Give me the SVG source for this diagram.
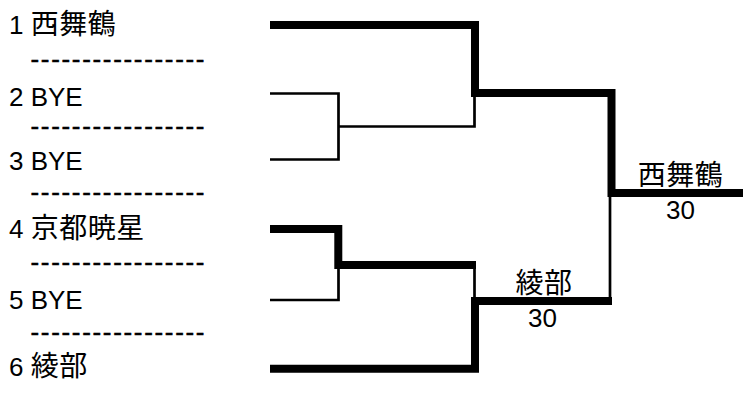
<svg xmlns="http://www.w3.org/2000/svg" width="743" height="400" viewBox="0 0 743 400">
<style>
text{font-family:"Liberation Sans","Noto Sans CJK JP",sans-serif;font-size:26px;fill:#000}
.cjk{font-size:28px;letter-spacing:0.5px}
.dash{font-size:26px;stroke:#000;stroke-width:0.5}
.thick{fill:none;stroke:#000;stroke-width:8;stroke-linejoin:miter;stroke-linecap:butt}
.thin{fill:none;stroke:#000;stroke-width:2.7;stroke-linecap:butt}
.lbl{text-anchor:middle}
</style>
<rect width="743" height="400" fill="#fff"/>
<g id="entry1"><text x="9" y="34">1 <tspan class="cjk">西舞鶴</tspan></text></g>
<g id="sep1"><text class="dash" x="30.5" y="67.5" textLength="174" lengthAdjust="spacing">-----------------</text></g>
<g id="entry2"><text x="9" y="106">2 BYE</text></g>
<g id="sep2"><text class="dash" x="30.5" y="134.5" textLength="174" lengthAdjust="spacing">-----------------</text></g>
<g id="entry3"><text x="9" y="169.5">3 BYE</text></g>
<g id="sep3"><text class="dash" x="30.5" y="200.5" textLength="174" lengthAdjust="spacing">-----------------</text></g>
<g id="entry4"><text x="9" y="238">4 <tspan class="cjk">京都暁星</tspan></text></g>
<g id="sep4"><text class="dash" x="30.5" y="271" textLength="174" lengthAdjust="spacing">-----------------</text></g>
<g id="entry5"><text x="9" y="309">5 BYE</text></g>
<g id="sep5"><text class="dash" x="30.5" y="340.5" textLength="174" lengthAdjust="spacing">-----------------</text></g>
<g id="entry6"><text x="9" y="376">6 <tspan class="cjk">綾部</tspan></text></g>
<g id="connectors">
<path class="thick" d="M270,25 H475 V93 H611.5 V193 H743"/>
<path class="thick" d="M270,229 H338.3 V265 H476"/>
<path class="thick" d="M270,368.7 H475 V301 H612"/>
<path class="thin" d="M270,93.5 H338.5 V159.5 H270"/>
<path class="thin" d="M338.5,126.5 H474.5 V93"/>
<path class="thin" d="M270,300 H338.5 V265"/>
<path class="thin" d="M474.5,265 V301"/>
<path class="thin" d="M610,193 V301"/>
</g>
<g id="final"><text class="lbl cjk" x="680.5" y="185">西舞鶴</text><text class="lbl" x="680.5" y="219">30</text></g>
<g id="semi2"><text class="lbl cjk" x="544" y="293">綾部</text><text class="lbl" x="542.5" y="327">30</text></g>
</svg>
